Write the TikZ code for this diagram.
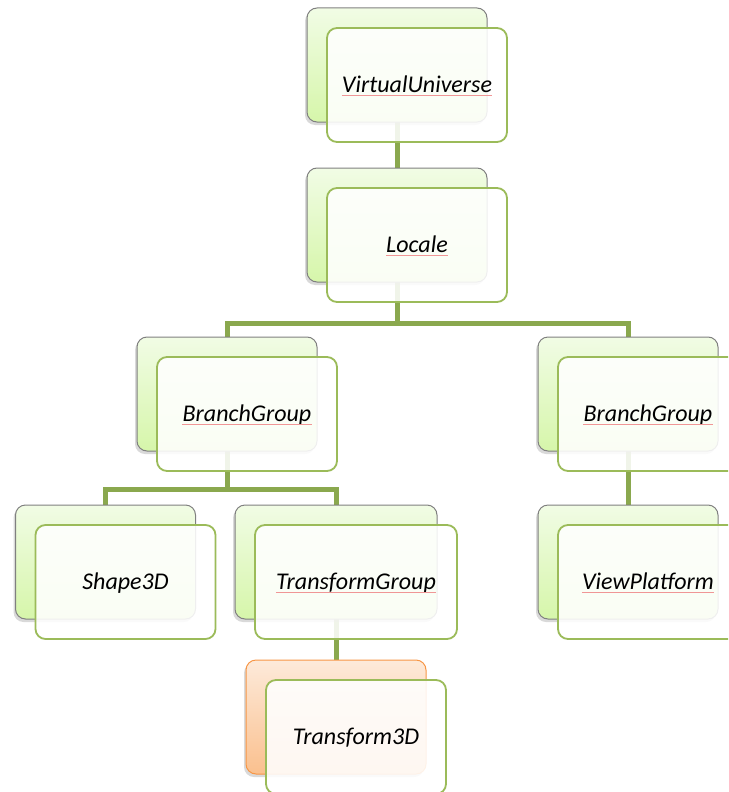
\documentclass[tikz,border=0pt]{standalone}
\usepackage{fontspec}
\setmainfont{Carlito}
\usetikzlibrary{shadows,backgrounds}
\definecolor{linkgreen}{RGB}{138,168,78}
\definecolor{framegreen}{RGB}{155,187,89}
\definecolor{leaftop}{RGB}{241,252,229}
\definecolor{leafbot}{RGB}{214,246,170}
\definecolor{peachtop}{RGB}{253,234,218}
\definecolor{peachbot}{RGB}{250,192,142}
\definecolor{peachedge}{RGB}{247,150,70}
\definecolor{squigred}{RGB}{240,150,150}
\begin{document}
\begin{tikzpicture}[x=1pt,y=-1pt,
  backbox/.style={draw=black!50, line width=1pt, rounded corners=10pt,
    minimum width=180pt, minimum height=114pt, inner sep=0pt,
    top color=leaftop, bottom color=leafbot,
    drop shadow={shadow xshift=-2pt, shadow yshift=-3pt, opacity=0.3}},
  peachbox/.style={backbox, draw=peachedge, top color=peachtop, bottom color=peachbot},
  frontbox/.style={draw=framegreen, line width=1.8pt, rounded corners=10pt,
    minimum width=180pt, minimum height=114pt, inner sep=0pt,
    fill=white, fill opacity=0.88},
  wide/.style={minimum width=202pt},
  caption/.style={inner sep=0pt, anchor=base,
    font=\fontsize{24}{28}\selectfont\itshape},
  link/.style={draw=linkgreen, line width=5pt},
  squiggle/.style={draw=squigred, line width=0.8pt}
]
\useasboundingbox (0,0) rectangle (728,792);
\clip (0,0) rectangle (728,792);

% rear panels of each element
\node[backbox] (vuB) at (397,65) {};
\node[backbox] (loB) at (397,225) {};
\node[backbox] (bgLB) at (227,394) {};
\node[backbox] (bgRB) at (628,394) {};
\node[backbox] (s3B) at (105.5,562) {};
\node[backbox,wide] (tgB) at (336,562) {};
\node[backbox] (vpB) at (628,562) {};
\node[peachbox] (t3B) at (336,717) {};

% hierarchy links, running behind the panels
\begin{scope}[on background layer]
  \coordinate (j1) at (397,323);
  \coordinate (j2) at (227,489);
  \draw[link] (vuB.center) -- (loB.center);
  \draw[link] (loB.center) -- (j1) -| (bgLB.center);
  \draw[link] (j1) -| (bgRB.center);
  \draw[link] (bgLB.center) -- (j2) -| (s3B.center);
  \draw[link] (j2) -| (tgB.center);
  \draw[link] (bgRB.center) -- (vpB.center);
  \draw[link] (tgB.center) -- (t3B.center);
\end{scope}

% front cards
\node[frontbox] (vuF) at (417,85) {};
\node[frontbox] (loF) at (417,245) {};
\node[frontbox] (bgLF) at (247,414) {};
\node[frontbox] (bgRF) at (648,414) {};
\node[frontbox] (s3F) at (125.5,582) {};
\node[frontbox,wide] (tgF) at (356,582) {};
\node[frontbox] (vpF) at (648,582) {};
\node[frontbox] (t3F) at (356,737) {};

% captions
\node[caption] (vuT) at ([yshift=-7.7pt]vuF.center) {VirtualUniverse};
\node[caption] (loT) at ([yshift=-7.7pt]loF.center) {Locale};
\node[caption] (bgLT) at ([yshift=-7.7pt]bgLF.center) {BranchGroup};
\node[caption] (bgRT) at ([yshift=-7.7pt]bgRF.center) {BranchGroup};
\node[caption] (s3T) at ([yshift=-7.7pt]s3F.center) {Shape3D};
\node[caption] (tgT) at ([yshift=-7.7pt]tgF.center) {TransformGroup};
\node[caption] (vpT) at ([yshift=-7.7pt]vpF.center) {ViewPlatform};
\node[caption] (t3T) at ([yshift=-7.7pt]t3F.center) {Transform3D};

% spelling marks under the class names
\foreach \t in {vuT,loT,bgLT,bgRT,tgT,vpT}
  \draw[squiggle] ([yshift=-3pt]\t.base west) -- ([yshift=-3pt]\t.base east);
\end{tikzpicture}
\end{document}
